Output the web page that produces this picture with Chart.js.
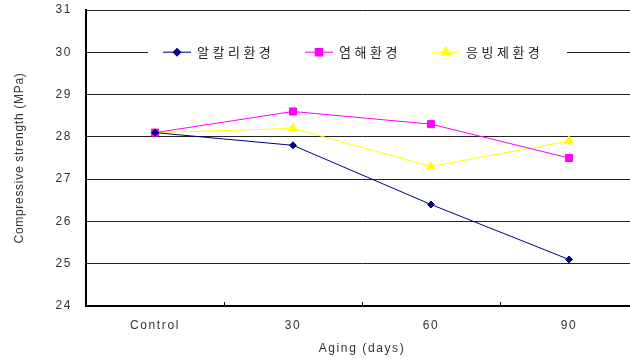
<!DOCTYPE html>
<html>
<head>
<meta charset="utf-8">
<script src="https://cdn.jsdelivr.net/npm/chart.js@4.4.0/dist/chart.umd.min.js"></script>
<style>
  html, body { margin: 0; padding: 0; background: #fff; overflow: hidden; }
  #wrap { width: 644px; height: 359px; }
</style>
</head>
<body>
<div id="wrap"><canvas id="grafico" width="644" height="359"></canvas></div>
<script>
// dados
const categorias = ["Control", "30", "60", "90"];
const alcali = [28.1, 27.8, 26.4, 25.1];
const salino = [28.1, 28.6, 28.3, 27.5];
const degelo = [28.1, 28.2, 27.3, 27.9];
const nomesSeries = ["알칼리환경", "염해환경", "응빙제환경"];
const yMin = 24, yMax = 31;

const fonteLatina = "'Liberation Sans', Arial, sans-serif";
const fonteCoreana = "'Noto Sans CJK KR', sans-serif";

// legenda desenhada dentro da área do gráfico, com fundo branco
const legendaInterna = {
  id: "legendaInterna",
  afterDraw(chart) {
    const ctx = chart.ctx;
    const y = chart.scales.y.getPixelForValue(30);
    const posicoes = [163, 305, 432];
    ctx.save();
    ctx.fillStyle = "#fff";
    ctx.fillRect(148, y - 9, 419, 18);
    chart.data.datasets.forEach((ds, i) => {
      const x0 = posicoes[i];
      ctx.strokeStyle = ds.borderColor;
      ctx.globalAlpha = 0.7;
      ctx.lineWidth = 1.5;
      ctx.beginPath();
      ctx.moveTo(x0, y);
      ctx.lineTo(x0 + 28, y);
      ctx.stroke();
      ctx.globalAlpha = 1;
      Chart.helpers.drawPoint(ctx, {
        pointStyle: ds.pointStyle,
        radius: ds.pointRadius,
        rotation: 0,
        borderWidth: 1
      }, x0 + 14, y);
      ctx.fillStyle = ds.pointBackgroundColor;
      ctx.fill();
      ctx.fillStyle = "#222";
      ctx.font = "13px " + fonteCoreana;
      ctx.letterSpacing = "3.5px";
      ctx.textBaseline = "middle";
      ctx.fillText(ds.label, x0 + 34, y);
    });
    ctx.restore();
  }
};

const espacamento = {
  id: "espacamento",
  beforeDraw(chart) {
    chart.ctx.letterSpacing = "1.6px";
  }
};

// título do eixo y com espaçamento menor
function ajustaTitulo(scale) {
  if (scale._tituloAjustado) return;
  const original = scale.drawTitle;
  scale.drawTitle = function () {
    this.ctx.letterSpacing = "0.7px";
    original.call(this);
    this.ctx.letterSpacing = "1.6px";
  };
  scale._tituloAjustado = true;
}

const ctx = document.getElementById("grafico");
window.meuGrafico = new Chart(ctx, {
  type: "line",
  data: {
    labels: categorias,
    datasets: [
      {
        label: nomesSeries[0],
        data: alcali,
        borderColor: "#000080",
        backgroundColor: "#000080",
        pointBackgroundColor: "#000080",
        pointBorderColor: "#000080",
        pointStyle: "rectRot",
        pointRadius: 3.5,
        borderWidth: 1
      },
      {
        label: nomesSeries[1],
        data: salino,
        borderColor: "#FF00FF",
        backgroundColor: "#FF00FF",
        pointBackgroundColor: "#FF00FF",
        pointBorderColor: "#FF00FF",
        pointStyle: "rect",
        pointRadius: 5,
        borderWidth: 1
      },
      {
        label: nomesSeries[2],
        data: degelo,
        borderColor: "#FFFF00",
        backgroundColor: "#FFFF00",
        pointBackgroundColor: "#FFFF00",
        pointBorderColor: "#FFFF00",
        pointStyle: "triangle",
        pointRadius: 5,
        borderWidth: 1
      }
    ]
  },
  options: {
    responsive: false,
    animation: false,
    layout: { padding: { top: 10, right: 0, left: 0, bottom: 0 } },
    plugins: {
      legend: { display: false },
      tooltip: { enabled: false }
    },
    scales: {
      x: {
        offset: true,
        grid: {
          offset: true,
          drawOnChartArea: false,
          drawTicks: true,
          tickLength: -4,
          color: "#000"
        },
        border: { color: "#000", width: 2 },
        ticks: {
          color: "#333",
          font: { family: fonteLatina, size: 12 },
          padding: 16
        },
        title: {
          display: true,
          text: "Aging (days)",
          color: "#333",
          font: { family: fonteLatina, size: 12 },
          padding: { top: 0, bottom: 3 }
        },
        afterFit(scale) {
          scale.height = 53;
          scale.paddingLeft = 0;
          scale.paddingRight = 0;
        }
      },
      y: {
        min: yMin,
        max: yMax,
        grid: { color: "#222", lineWidth: 1, drawTicks: false },
        border: { color: "#000", width: 2 },
        ticks: {
          stepSize: 1,
          color: "#333",
          font: { family: fonteLatina, size: 12 },
          padding: 14
        },
        title: {
          display: true,
          text: "Compressive strength (MPa)",
          color: "#333",
          font: { family: fonteLatina, size: 12 },
          padding: { top: 12, bottom: 0 }
        },
        afterFit(scale) {
          scale.width = 86;
          scale.paddingTop = 0;
          scale.paddingBottom = 0;
          ajustaTitulo(scale);
        }
      }
    }
  },
  plugins: [espacamento, legendaInterna]
});
</script>
</body>
</html>
